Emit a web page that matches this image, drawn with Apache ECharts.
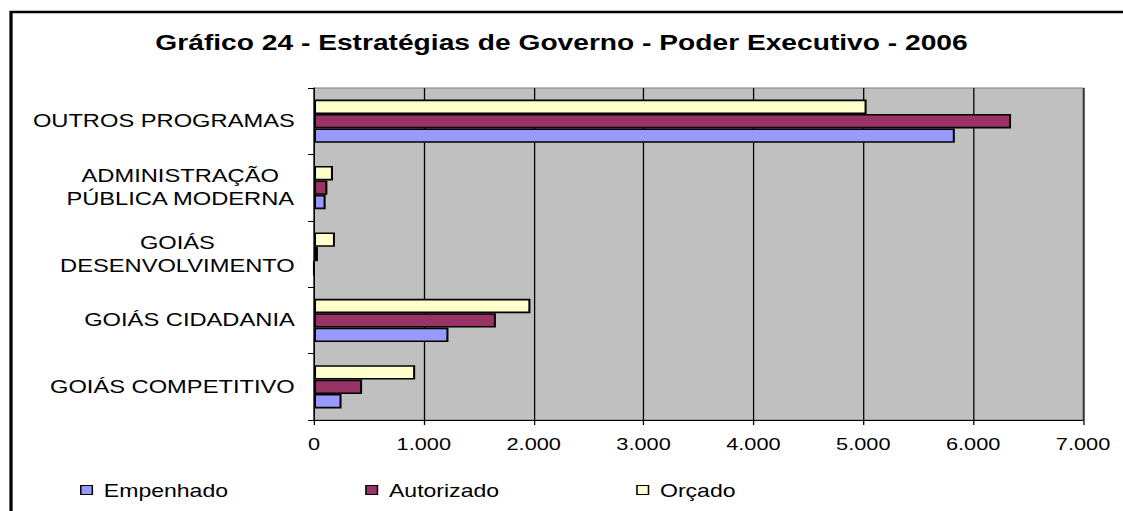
<!DOCTYPE html>
<html>
<head>
<meta charset="utf-8">
<script src="https://cdn.jsdelivr.net/npm/echarts@6/dist/echarts.min.js"></script>
<style>
  html, body { margin: 0; padding: 0; background: #fff; overflow: hidden; }
  #wrap { width: 877px; height: 511px; transform: scaleX(1.2805); transform-origin: 0 0; }
</style>
</head>
<body>
<div id="wrap"></div>
<script>
const titleText = 'Gráfico 24 - Estratégias de Governo - Poder Executivo - 2006';
const categories = ['GOIÁS COMPETITIVO', 'GOIÁS CIDADANIA', 'GOIÁS\nDESENVOLVIMENTO', 'ADMINISTRAÇÃO\nPÚBLICA MODERNA', 'OUTROS PROGRAMAS'];
const empenhado = [251, 1224, 0, 106, 5833];
const autorizado = [438, 1656, 36, 122, 6345];
const orcado = [921, 1970, 191, 173, 5030];
const seriesNames = ['Empenhado', 'Autorizado', 'Orçado'];
const xTickLabels = ['0', '1.000', '2.000', '3.000', '4.000', '5.000', '6.000', '7.000'];
const xMin = 0, xMax = 7000, xInterval = 1000;

const FONT = 'Liberation Sans, Arial, sans-serif';
const chart = echarts.init(document.getElementById('wrap'), null, { renderer: 'svg', width: 877, height: 511 });

function barSeries(name, data, color) {
  return {
    name: name, type: 'bar', data: data,
    barGap: '0%', barCategoryGap: '35%',
    itemStyle: { color: color, borderColor: '#000', borderWidth: 1.6 },
    emphasis: { disabled: true },
    animation: false
  };
}

chart.setOption({
  animation: false,
  backgroundColor: '#fff',
  title: {
    text: titleText, left: 'center', top: 31, padding: 0,
    textStyle: { fontFamily: FONT, fontSize: 22, fontWeight: 'bold', color: '#000' }
  },
  legend: {
    data: seriesNames, left: 62.5, top: 481, padding: 0,
    icon: 'rect', itemWidth: 9, itemHeight: 9, itemGap: 107,
    selectedMode: false,
    itemStyle: { borderColor: '#000', borderWidth: 1.2 },
    textStyle: { fontFamily: FONT, fontSize: 18, color: '#000', padding: [0, 0, 0, 4] }
  },
  graphic: [{
    type: 'rect', silent: true, z: 100,
    shape: { x: 8.6, y: 12, width: 2000, height: 2000 },
    style: { fill: 'none', stroke: '#000', lineWidth: 2.5 }
  }],
  grid: {
    left: 245.2, right: 31.2, top: 88, bottom: 91,
    show: true, backgroundColor: '#C0C0C0', borderColor: '#808080', borderWidth: 1
  },
  xAxis: {
    type: 'value', min: xMin, max: xMax, interval: xInterval,
    axisLine: { show: true, lineStyle: { color: '#000', width: 1 } },
    axisTick: { show: true, length: 5, lineStyle: { color: '#000' } },
    splitLine: { show: true, lineStyle: { color: '#000', width: 1 } },
    axisLabel: {
      margin: 15.5, fontFamily: FONT, fontSize: 17, color: '#000',
      formatter: function (v) { return xTickLabels[Math.round((v - xMin) / xInterval)]; }
    }
  },
  yAxis: {
    type: 'category', data: categories,
    axisLine: { show: true, lineStyle: { color: '#000', width: 1 } },
    axisTick: { show: true, length: 4.7, lineStyle: { color: '#000' } },
    splitLine: { show: false },
    axisLabel: {
      margin: 15, fontFamily: FONT, fontSize: 18.5, lineHeight: 23, color: '#000',
      formatter: function (v) { return v.split('\n').map(function (l) { return '{c|' + l + '}'; }).join('\n'); },
      rich: { c: { align: 'center', fontFamily: FONT, fontSize: 18.5, lineHeight: 23, color: '#000' } }
    }
  },
  series: [
    barSeries(seriesNames[2], orcado, '#FFFFCC'),
    barSeries(seriesNames[1], autorizado, '#993366'),
    barSeries(seriesNames[0], empenhado, '#9999FF')
  ]
});
</script>
</body>
</html>
